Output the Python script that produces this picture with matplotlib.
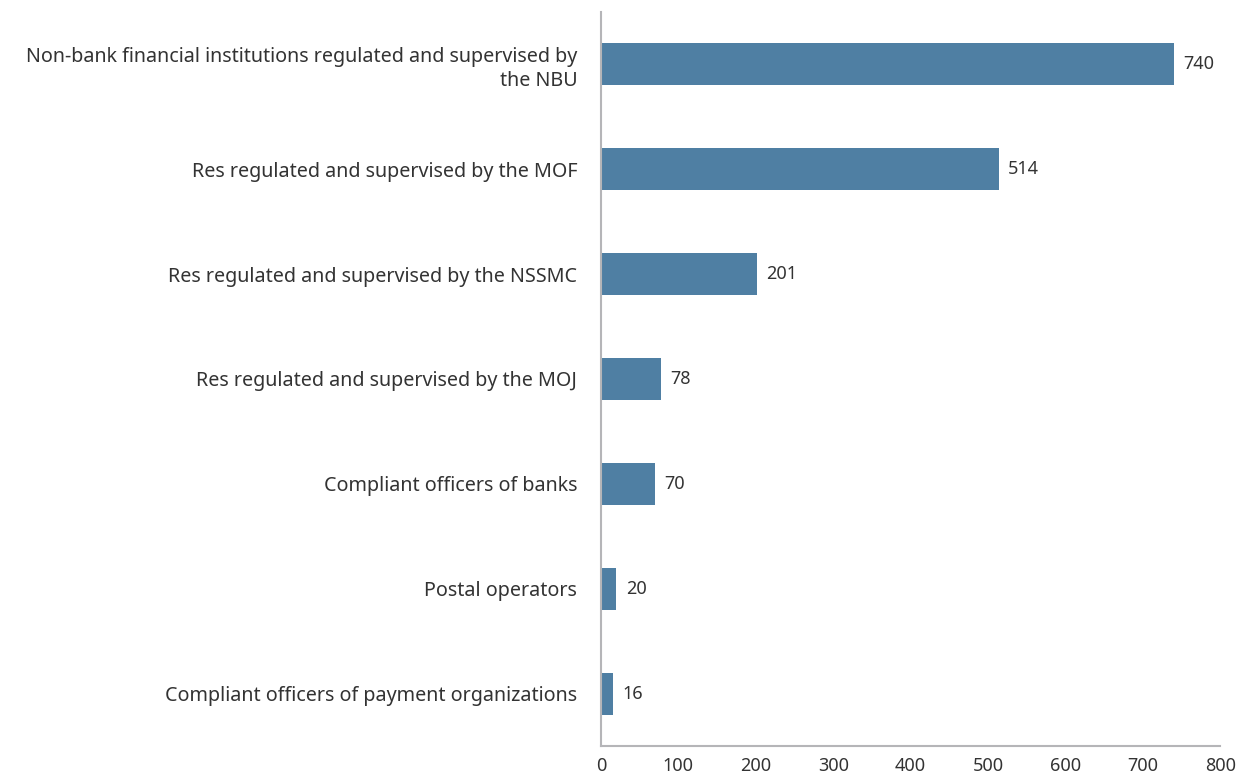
import matplotlib
matplotlib.use("Agg")
from matplotlib import pyplot as plt

categories = [
    "Non-bank financial institutions regulated and supervised by\nthe NBU",
    "Res regulated and supervised by the MOF",
    "Res regulated and supervised by the NSSMC",
    "Res regulated and supervised by the MOJ",
    "Compliant officers of banks",
    "Postal operators",
    "Compliant officers of payment organizations",
]
values = [740, 514, 201, 78, 70, 20, 16]
x_ticks = [0, 100, 200, 300, 400, 500, 600, 700, 800]

bar_color = "#4f7fa3"
text_color = "#333333"
axis_color = "#b5b5b8"

plt.rcParams['font.family'] = ['Noto Sans', 'DejaVu Sans']

fig = plt.figure(figsize=(12.39, 7.76), dpi=100)
ax = fig.add_axes([0.485, 0.0387, 0.5, 0.946])

pos = list(range(len(categories)))
ax.barh(pos, values, height=0.4, color=bar_color)
for p, v in zip(pos, values):
    ax.text(v + 12, p, str(v), va="center", ha="left", fontsize=13, color=text_color)

ax.set_yticks(pos)
ax.set_yticklabels(categories, fontsize=14.2, color=text_color, ha="right",
                   linespacing=1.3)
ax.set_ylim(len(categories) - 0.5, -0.5)
ax.set_xlim(0, 800)
ax.set_xticks(x_ticks)
ax.set_xticklabels([str(t) for t in x_ticks], fontsize=13, color=text_color)
ax.tick_params(axis="both", length=0)
ax.tick_params(axis="y", pad=17)
ax.tick_params(axis="x", pad=8)

for s in ["top", "right"]:
    ax.spines[s].set_visible(False)
for s in ["left", "bottom"]:
    ax.spines[s].set_color(axis_color)
    ax.spines[s].set_linewidth(1.5)

fig.savefig("out.png", dpi=100)
